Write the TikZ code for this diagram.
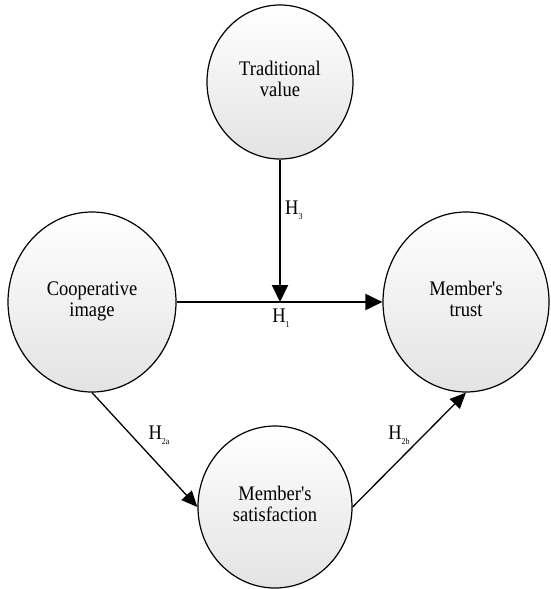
\documentclass[tikz,border=0pt]{standalone}
\usepackage{graphicx}
\usepackage{fontspec}
\setmainfont{Liberation Serif}
\usetikzlibrary{shapes.geometric,arrows.meta}
\newcommand{\hsub}[1]{\scalebox{1}[1.12]{H\raisebox{-0.22em}{\fontsize{8}{8}\selectfont #1}}}
\newcommand{\tallstack}[1]{\scalebox{1}[1.12]{\begin{tabular}{@{}c@{}}#1\end{tabular}}}
\begin{document}
\begin{tikzpicture}[x=1pt,y=-1pt,
  latent/.style={ellipse, draw=black, line width=1.2pt, top color=white, bottom color=black!11,
    inner sep=0pt, align=center, font=\fontsize{18.5}{19}\selectfont\rmfamily},
  hyp/.style={font=\fontsize{18.5}{19}\selectfont\rmfamily, inner sep=0pt},
  strong/.style={line width=2pt, -{Triangle[length=17pt,width=16pt]}},
  weak/.style={line width=1.3pt, -{Triangle[length=16pt,width=14pt]}}]
\useasboundingbox (0,0) rectangle (550,589);
\node[latent, minimum width=146pt, minimum height=154pt] (trad) at (280,82) {\tallstack{Traditional\\value}};
\node[latent, minimum width=168pt, minimum height=180pt] (coop) at (92,302) {\tallstack{Cooperative\\image}};
\node[latent, minimum width=166pt, minimum height=180pt] (trust) at (466,302) {\tallstack{Member\textquotesingle s\\trust}};
\node[latent, minimum width=154pt, minimum height=162pt] (sat) at (275,507) {\tallstack{Member\textquotesingle s\\satisfaction}};
\coordinate (mid) at (trad.south |- coop.east);
\draw[strong] (coop.east) -- (trust.west);
\draw[strong] (trad.south) -- (mid);
\draw[weak] (coop.south) -- (sat.west);
\draw[weak] (sat.east) -- (trust.south);
\node[hyp, anchor=west] (l3) at (285,210) {\hsub{3}};
\node[hyp] (l1) at (281,318) {\hsub{1}};
\node[hyp] (l2a) at (159,435) {\hsub{2a}};
\node[hyp] (l2b) at (399,435) {\hsub{2b}};
\end{tikzpicture}
\end{document}
